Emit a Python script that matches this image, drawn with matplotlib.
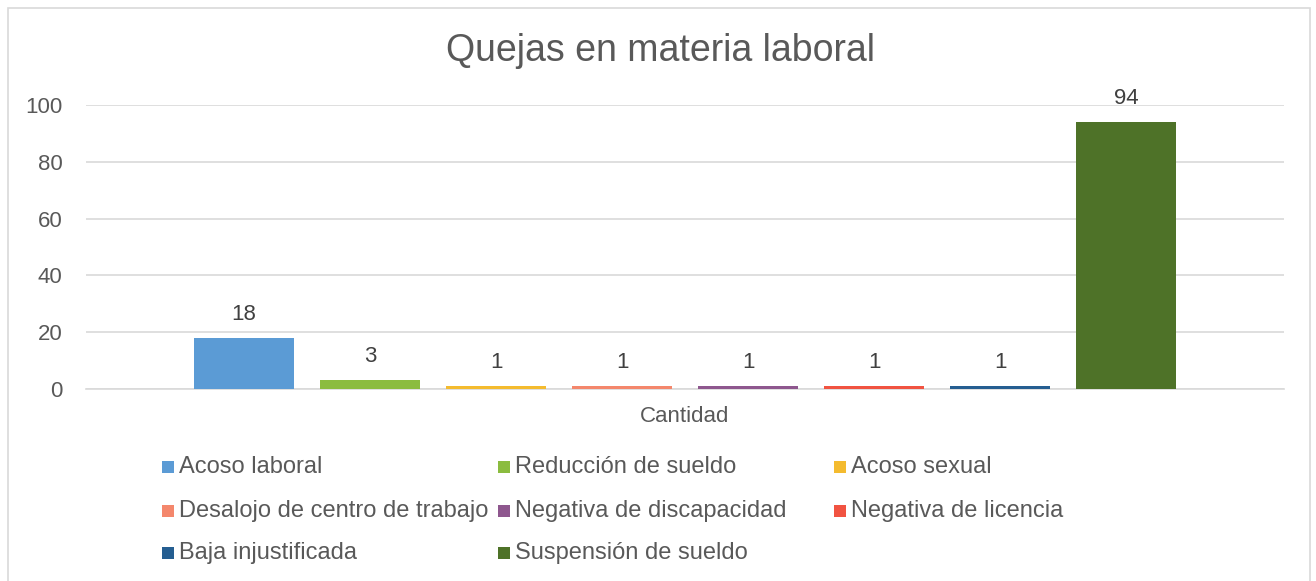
import matplotlib
matplotlib.use("Agg")
import matplotlib.pyplot as plt
from matplotlib.patches import Rectangle

plt.rcParams['font.family'] = ['Liberation Sans', 'DejaVu Sans']

categories = ["Acoso laboral", "Reducción de sueldo", "Acoso sexual",
              "Desalojo de centro de trabajo", "Negativa de discapacidad",
              "Negativa de licencia", "Baja injustificada", "Suspensión de sueldo"]
values = [18, 3, 1, 1, 1, 1, 1, 94]
colors = ["#5B9BD5", "#8BBC3F", "#F4BB2F", "#F4876C", "#8E578E",
          "#F15341", "#255E91", "#4E7228"]
group_label = "Cantidad"
yticks = [0, 20, 40, 60, 80, 100]
title = "Quejas en materia laboral"

W, H = 1316, 581
fig = plt.figure(figsize=(W / 100, H / 100), dpi=100)

# chart border
fig.patches.append(Rectangle((8 / W, -0.01), (1310 - 8) / W, 1 - 8 / H + 0.01,
                             transform=fig.transFigure, fill=False,
                             edgecolor="#D9D9D9", linewidth=1.2))

ax = fig.add_axes([86 / W, 1 - 389 / H, (1284 - 86) / W, (389 - 105) / H])
n = len(values)
bar_w = 100 / 1198
step = 126 / 1198
xs = [(i - (n - 1) / 2) * step for i in range(n)]
bars = ax.bar(xs, values, width=bar_w, color=colors, zorder=3)
for x, v in zip(xs, values):
    ax.annotate(str(v), (x, v), xytext=(0, 17), textcoords="offset points",
                ha="center", va="center", fontsize=16, color="#404040")

ax.set_xlim(-0.5, 0.5)
ax.set_ylim(0, 100)
ax.set_yticks(yticks)
ax.set_yticklabels([str(t) for t in yticks], fontsize=16, color="#595959")
ax.set_xticks([0])
ax.set_xticklabels([group_label], fontsize=16, color="#595959")
ax.tick_params(axis="both", length=0)
ax.tick_params(axis="y", pad=17)
ax.tick_params(axis="x", pad=12)
ax.grid(axis="y", color="#D9D9D9", linewidth=1.2, zorder=0)
for s in ["top", "right", "left"]:
    ax.spines[s].set_visible(False)
ax.spines["bottom"].set_color("#D9D9D9")
ax.spines["bottom"].set_linewidth(1.2)

fig.text(660 / W, 1 - 51 / H, title, ha="center", va="center", fontsize=27, color="#595959")

# legend
col_x = [162, 498, 834]
row_y = [467, 511, 553]
for i, (lab, c) in enumerate(zip(categories, colors)):
    cx = col_x[i % 3]
    cy = row_y[i // 3]
    fig.patches.append(Rectangle((cx / W, 1 - (cy + 6) / H), 12 / W, 12 / H,
                                 transform=fig.transFigure, facecolor=c, edgecolor="none"))
    fig.text((cx + 17) / W, 1 - cy / H, lab, ha="left", va="center",
             fontsize=17, color="#595959")

fig.savefig("out.png", dpi=100)
